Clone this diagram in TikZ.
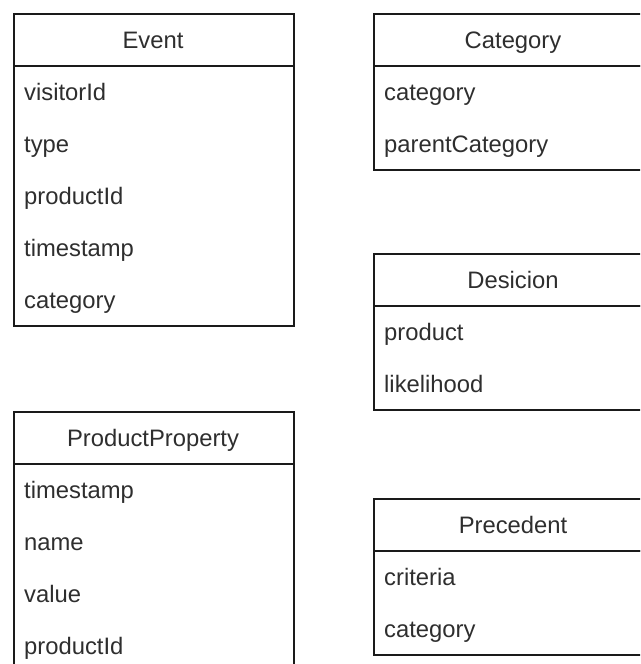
\documentclass[tikz,border=0pt]{standalone}
\usepackage{fontspec}
\setmainfont{Liberation Sans}
\definecolor{linec}{HTML}{1A1A1A}
\definecolor{textc}{HTML}{2E2E2E}
\begin{document}
\begin{tikzpicture}[x=1pt,y=-1pt,
  box/.style={draw=linec, line width=2pt, inner sep=0pt, minimum width=280pt},
  head/.style={box, minimum height=52pt, anchor=north west},
  body/.style={box, anchor=north west},
  title/.style={anchor=base, inner sep=0pt, text=textc, font=\fontsize{23.8}{28}\selectfont},
  field/.style={anchor=base west, inner sep=0pt, text=textc, font=\fontsize{23.8}{28}\selectfont}]
\clip (0,0) rectangle (640,664);

% Event
\node[head] (eventH) at (13,13) {};
\node[body, minimum height=260pt] (eventB) at (13,65) {};
\node[title] (eventT) at (153,48) {Event};
\node[field] (ev1) at (24,100) {visitorId};
\node[field] (ev2) at (24,152) {type};
\node[field] (ev3) at (24,204) {productId};
\node[field] (ev4) at (24,256) {timestamp};
\node[field] (ev5) at (24,308) {category};

% Category
\node[head] (catH) at (373,13) {};
\node[body, minimum height=104pt] (catB) at (373,65) {};
\node[title] (catT) at (513,48) {Category};
\node[field] (cat1) at (384,100) {category};
\node[field] (cat2) at (384,152) {parentCategory};

% Desicion
\node[head] (decH) at (373,253) {};
\node[body, minimum height=104pt] (decB) at (373,305) {};
\node[title] (decT) at (513,288) {Desicion};
\node[field] (dec1) at (384,340) {product};
\node[field] (dec2) at (384,392) {likelihood};

% ProductProperty
\node[head] (ppH) at (13,411) {};
\node[body, minimum height=208pt] (ppB) at (13,463) {};
\node[title] (ppT) at (153,446) {ProductProperty};
\node[field] (pp1) at (24,498) {timestamp};
\node[field] (pp2) at (24,550) {name};
\node[field] (pp3) at (24,602) {value};
\node[field] (pp4) at (24,654) {productId};

% Precedent
\node[head] (preH) at (373,498) {};
\node[body, minimum height=104pt] (preB) at (373,550) {};
\node[title] (preT) at (513,533) {Precedent};
\node[field] (pre1) at (384,585) {criteria};
\node[field] (pre2) at (384,637) {category};
\end{tikzpicture}
\end{document}
